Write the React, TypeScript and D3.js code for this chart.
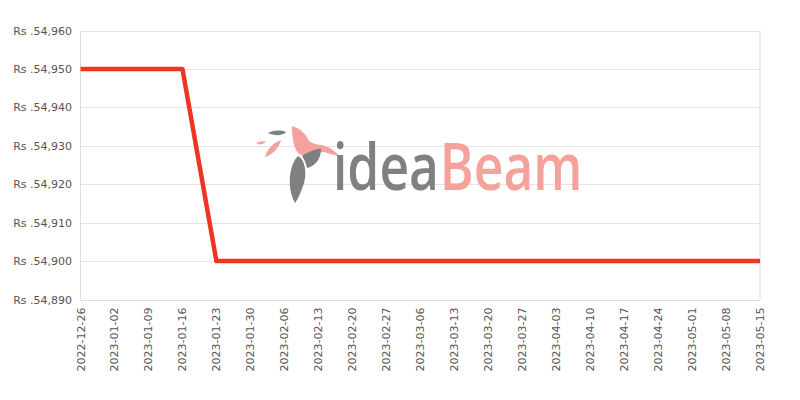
import React from "react";
import * as d3 from "d3";

const dates = ["2022-12-26", "2023-01-16", "2023-01-23", "2023-05-15"];
const prices = [54950, 54950, 54900, 54900];
const yTicks = [54890, 54900, 54910, 54920, 54930, 54940, 54950, 54960];
const xStart = "2022-12-26";
const xEnd = "2023-05-15";

const W = 800, H = 400;
const M = { left: 80.5, right: 40, top: 30.5, bottom: 101 };

export default function App() {
  const parse = d3.utcParse("%Y-%m-%d");
  const fmt = d3.utcFormat("%Y-%m-%d");
  const x = d3.scaleUtc().domain([parse(xStart)!, parse(xEnd)!]).range([M.left, W - M.right]);
  const y = d3.scaleLinear().domain([54890, 54960]).range([H - M.bottom + 0.5, M.top]);
  const mondays = d3.utcMonday.range(parse(xStart)!, d3.utcDay.offset(parse(xEnd)!, 1));
  const pts = dates.map((d, i) => [x(parse(d)!), y(prices[i])] as [number, number]);
  const line = d3.line()(pts)!;
  const fmtY = (v: number) => "Rs ." + d3.format(",")(v);
  const x0 = M.left, x1 = W - M.right, yTop = y(54960), yBot = y(54890);
  return (
    <svg width={W} height={H} style={{ position: "absolute", left: 0, top: 0 }} fontFamily="DejaVu Sans, Verdana, sans-serif">
      <rect width={W} height={H} fill="#fff" />
      {yTicks.map((t) => (
        <g key={t}>
          <line x1={x0} x2={x1} y1={Math.round(y(t)) + 0.5} y2={Math.round(y(t)) + 0.5} stroke="#e3e3e3" />
          <text x={72} y={y(t) + 4} textAnchor="end" fontSize={11} fill="#555">{fmtY(t)}</text>
        </g>
      ))}
      <line x1={x0} x2={x0} y1={yTop} y2={yBot} stroke="#ddd" />
      <line x1={x1} x2={x1} y1={yTop} y2={yBot} stroke="#ddd" />
      <line x1={x0} x2={x1} y1={Math.round(yBot) + 0.5} y2={Math.round(yBot) + 0.5} stroke="#ddd" />
      {mondays.map((d) => (
        <text key={+d} transform={`translate(${x(d) + 4},${yBot + 8}) rotate(-90)`} textAnchor="end" fontSize={11} fill="#555">{fmt(d)}</text>
      ))}
      {/* watermark */}
      <g>
        <path d="M292,126 C300,128 306,134 309,141 C314,144 318,145 322,145 C330,147 336,152 340,157 C332,154 326,152 320,152 C314,157 304,158 298,153 C293,146 292,136 292,126 Z" fill="#f4a29b" />
        <path d="M268,133 C274,130 281,130 286,132 C283,136 274,136 268,133 Z" fill="#7f7f7f" />
        <path d="M256,143 C260,141 264,141 266,142 C262,145 259,145 256,143 Z" fill="#f4a29b" />
        <path d="M265,157 C267,149 273,143 281,140 C279,148 273,154 265,157 Z" fill="#f4a29b" />
        <path d="M298,156 C305,160 307,172 304,183 C301,192 298,199 295,203 C291,196 289,186 290,176 C291,167 294,160 298,156 Z" fill="#7f7f7f" />
        <path d="M302,156 C310,151 318,148 321,149 C321,158 316,166 307,168 C306,163 304,159 302,156 Z" fill="#7f7f7f" />
        <g transform="translate(333,190) scale(0.78,1)" fontSize={66} fontWeight={600} fontFamily="Open Sans, sans-serif">
          <text x={0} y={0} fill="#808080">idea</text>
          <text x={137} y={0} fill="#f4a29b">Beam</text>
        </g>
      </g>
      <path d={line} fill="none" stroke="#ee3524" strokeWidth={4.5} strokeLinejoin="round" />
    </svg>
  );
}
